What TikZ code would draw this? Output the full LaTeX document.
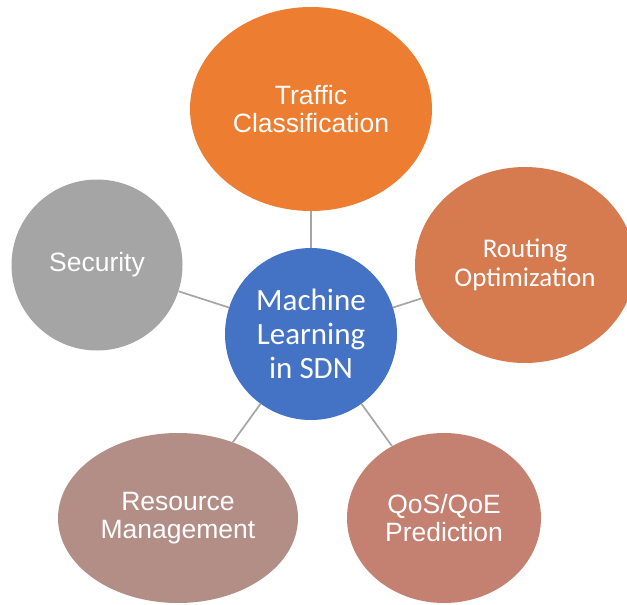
\documentclass[tikz,border=0pt]{standalone}
\usepackage{fontspec}
\setmainfont{Liberation Sans}
\newfontfamily\calibri{Carlito}
\usetikzlibrary{shapes.geometric}
\definecolor{hubblue}{HTML}{4472C4}
\definecolor{trafficorange}{HTML}{ED7D31}
\definecolor{routingorange}{HTML}{D67A50}
\definecolor{securitygray}{HTML}{A5A5A5}
\definecolor{resourcerose}{HTML}{B38E87}
\definecolor{qosrose}{HTML}{C48070}
\definecolor{linkgray}{HTML}{A5A5A5}
\begin{document}
\begin{tikzpicture}[x=1pt, y=-1pt,
  main/.style = {ellipse, inner sep=0pt, text=white, align=center, font=\fontsize{26.5}{28.5}\selectfont},
  hub/.style = {circle, inner sep=0pt, text=white, align=center, fill=hubblue, minimum size=172pt, font=\calibri\fontsize{31}{34}\selectfont},
  link/.style = {draw=linkgray, line width=1.7pt}]
  \clip (0,0) rectangle (627,605);
  \node[hub] (1) at (311,334) {Machine\\Learning\\in SDN};
  \node[main, fill=trafficorange, minimum width=242pt, minimum height=204pt] (2) at (311,109) {Traffic\\Classification};
  \node[main, fill=routingorange, minimum width=220pt, minimum height=196pt, font=\calibri\fontsize{27}{29}\selectfont] (3) at (525,265) {Routing\\Optimization};
  \node[main, fill=qosrose, minimum width=194pt, minimum height=170pt] (4) at (444,518) {QoS/QoE\\Prediction};
  \node[main, fill=resourcerose, minimum width=240pt, minimum height=170pt] (5) at (178,518) {Resource\\Management};
  \node[main, circle, fill=securitygray, minimum size=171pt] (6) at (97,265) {Security};
  \draw[link] (1) -- (2);
  \draw[link] (1) -- (3);
  \draw[link] (1) -- (4);
  \draw[link] (1) -- (5);
  \draw[link] (1) -- (6);
\end{tikzpicture}
\end{document}
